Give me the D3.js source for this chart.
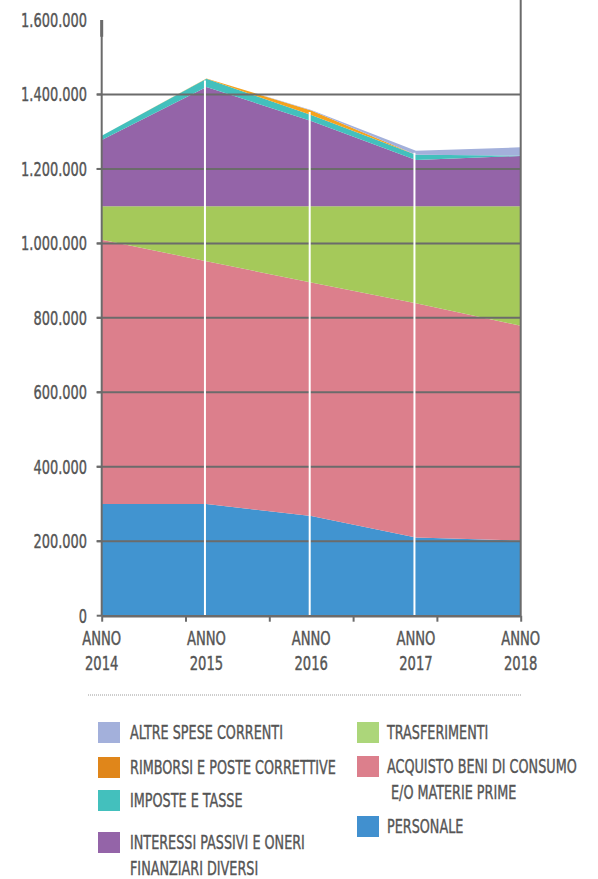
<!DOCTYPE html>
<html>
<head>
<meta charset="utf-8">
<script src="https://cdn.jsdelivr.net/npm/d3@7"></script>
<style>
  html, body { margin: 0; padding: 0; background: #fff; }
  svg { display: block; }
  text { font-family: "Liberation Sans Narrow", "DejaVu Sans Condensed", "Liberation Sans", sans-serif; fill: #555; stroke: #555; stroke-width: 0.4px; }
</style>
</head>
<body>
<svg id="chart" width="598" height="879"></svg>
<script>
// ---- data ----
const years = [2014, 2015, 2016, 2017, 2018];
const yearLabels = ["2014", "2015", "2016", "2017", "2018"];
const personale = [300000, 300000, 268000, 210000, 202000];
const acquisto = [710000, 652000, 627000, 629000, 577000];
const trasferimenti = [90000, 148000, 205000, 261000, 321000];
const interessi = [178000, 320000, 229000, 124000, 135000];
const imposte = [11000, 22000, 16000, 14000, 1000];
const rimborsi = [0, 1000, 12000, 0, 0];
const altre = [0, 0, 1000, 11000, 22000];
const yTickValues = [0, 200000, 400000, 600000, 800000, 1000000, 1200000, 1400000, 1600000];
const seriesKeys = ["personale", "acquisto", "trasferimenti", "interessi", "imposte", "rimborsi", "altre"];
const seriesColors = ["#4194d0", "#dc7f8c", "#a5c95a", "#9464a8", "#43c0bd", "#f5a21d", "#a3b0db"];
const legendLeft = [
  { key: "altre", lines: ["ALTRE SPESE CORRENTI"], color: "#a3b0db" },
  { key: "rimborsi", lines: ["RIMBORSI E POSTE CORRETTIVE"], color: "#e0861a" },
  { key: "imposte", lines: ["IMPOSTE E TASSE"], color: "#43c0bd" },
  { key: "interessi", lines: ["INTERESSI PASSIVI E ONERI", "FINANZIARI DIVERSI"], color: "#9464a8" }
];
const legendRight = [
  { key: "trasferimenti", lines: ["TRASFERIMENTI"], color: "#acd67a" },
  { key: "acquisto", lines: ["ACQUISTO BENI DI CONSUMO", " E/O MATERIE PRIME"], color: "#dc7f8c" },
  { key: "personale", lines: ["PERSONALE"], color: "#4190cf" }
];

// ---- build table ----
const table = years.map((y, i) => ({
  year: y,
  personale: personale[i], acquisto: acquisto[i], trasferimenti: trasferimenti[i],
  interessi: interessi[i], imposte: imposte[i], rimborsi: rimborsi[i], altre: altre[i]
}));
const stack = d3.stack().keys(seriesKeys)(table);

const svg = d3.select("#chart");
const x0 = 101.7, x1 = 520.7, yBottom = 615.7, yTop = 20;
const x = d3.scalePoint().domain(years).range([x0, x1]);
const xTick = d3.scaleLinear().domain([0, 5]).range([x0, x1]);
const y = d3.scaleLinear().domain([0, 1600000]).range([yBottom, yTop]);
const itFmt = d3.formatLocale({ decimal: ",", thousands: ".", grouping: [3], currency: ["€", ""] }).format(",");
const gray = "#6b6b6b";

// areas
const area = d3.area().x(d => x(d.data.year)).y0(d => y(d[0])).y1(d => y(d[1]));
svg.append("g").selectAll("path").data(stack).join("path")
  .attr("d", area)
  .attr("fill", (d, i) => seriesColors[i]);

// gridlines
svg.append("g").selectAll("line").data(yTickValues.filter(v => v > 0 && v < 1600000)).join("line")
  .attr("x1", x0 - 5).attr("x2", x1)
  .attr("y1", d => y(d)).attr("y2", d => y(d))
  .attr("stroke", gray).attr("stroke-width", 2);

// white vertical separators at inner years
const totals = table.map(d => seriesKeys.reduce((s, k) => s + d[k], 0));
svg.append("g").selectAll("line").data(years.slice(1, 4)).join("line")
  .attr("x1", d => x(d) - 1.5).attr("x2", d => x(d) - 1.5)
  .attr("y1", d => y(totals[years.indexOf(d)]) + 2).attr("y2", yBottom)
  .attr("stroke", "#fff").attr("stroke-width", 2);

// left axis line
svg.append("line").attr("x1", x0).attr("x2", x0).attr("y1", y(1600000)).attr("y2", yBottom)
  .attr("stroke", gray).attr("stroke-width", 2);
svg.append("line").attr("x1", x0).attr("x2", x0).attr("y1", y(1600000)).attr("y2", y(1555000))
  .attr("stroke", gray).attr("stroke-width", 3);
// left tick stubs
svg.append("g").selectAll("line").data(yTickValues.filter(v => v < 1600000)).join("line")
  .attr("x1", x0 - 5).attr("x2", x0).attr("y1", d => y(d)).attr("y2", d => y(d))
  .attr("stroke", gray).attr("stroke-width", 2);
// right frame line
svg.append("line").attr("x1", x1).attr("x2", x1).attr("y1", 0).attr("y2", yBottom)
  .attr("stroke", gray).attr("stroke-width", 2);

// bottom axis with ticks
const xAxis = d3.axisBottom(xTick).tickValues(d3.range(6)).tickFormat("").tickSize(6).tickSizeOuter(0);
const gx = svg.append("g").attr("transform", `translate(0,${yBottom})`).call(xAxis);
gx.select(".domain").attr("stroke", gray).attr("stroke-width", 2.5);
gx.selectAll(".tick line").attr("stroke", gray).attr("stroke-width", 2);

// condensed text: placed in a group scaled horizontally
function factor(text, size, target) {
  const t = svg.append("text").attr("font-size", size).text(text);
  const w = t.node().getComputedTextLength();
  t.remove();
  return target / w;
}
function ctext(px, py, str, size, k, anchor) {
  const g = svg.append("g").attr("transform", `translate(${px},${py}) scale(${k},1)`);
  return g.append("text").attr("x", 0).attr("y", 0).attr("font-size", size)
    .attr("text-anchor", anchor || "start").text(str);
}

// y labels
const ky = factor("1.600.000", 20, 66);
yTickValues.forEach(v => ctext(87, y(v) + 7, itFmt(v), 20, ky, "end"));

// x labels
const kx = factor("ANNO", 19, 39);
years.forEach((yr, i) => {
  ctext(x(yr), 645, "ANNO", 19, kx, "middle");
  ctext(x(yr), 670, yearLabels[i], 19, kx, "middle");
});

// dotted separator
svg.append("line").attr("x1", 88).attr("x2", 522).attr("y1", 695).attr("y2", 695)
  .attr("stroke", "#9a9a9a").attr("stroke-width", 1).attr("stroke-dasharray", "1,1");

// legend
const kl = factor("ALTRE SPESE CORRENTI", 20, 153);
function drawLegend(items, sx, tx, rowTops) {
  items.forEach((it, i) => {
    const top = rowTops[i];
    svg.append("rect").attr("x", sx).attr("y", top).attr("width", 22).attr("height", 21).attr("fill", it.color);
    it.lines.forEach((ln, j) => {
      const indent = (j > 0 && ln.startsWith(" ")) ? 4 : 0;
      ctext(tx + indent, top + 17 + j * 25.5, ln.trim(), 20, kl);
    });
  });
}
drawLegend(legendLeft, 98, 130, [722, 757, 790, 832]);
drawLegend(legendRight, 357, 387, [722, 756, 816]);
</script>
</body>
</html>
